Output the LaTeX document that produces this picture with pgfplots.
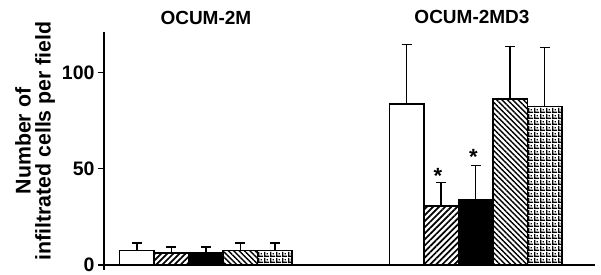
\documentclass[border=0pt]{standalone}
\usepackage{fontspec}
\setmainfont{Liberation Sans}
\setsansfont{Liberation Sans}
\usepackage{pgfplots}
\pgfplotsset{compat=1.18}
\usetikzlibrary{patterns.meta}

\pgfdeclarepatternformonly{griddot}{\pgfqpoint{0pt}{0pt}}{\pgfqpoint{6pt}{6pt}}{\pgfqpoint{6pt}{6pt}}{%
  \pgfsetlinewidth{1.7pt}%
  \pgfpathmoveto{\pgfqpoint{0.85pt}{0pt}}\pgfpathlineto{\pgfqpoint{0.85pt}{6pt}}%
  \pgfpathmoveto{\pgfqpoint{0pt}{0.85pt}}\pgfpathlineto{\pgfqpoint{6pt}{0.85pt}}%
  \pgfusepath{stroke}%
  \pgfpathrectangle{\pgfqpoint{3.05pt}{3.05pt}}{\pgfqpoint{1.5pt}{1.5pt}}%
  \pgfusepath{fill}%
}

\pgfplotstableread{
x y ey
136.9 7.4 3.9
406.5 83.7 30.9
}\sone
\pgfplotstableread{
x y ey
171.4 6.1 3.1
441.0 30.7 12.0
}\stwo
\pgfplotstableread{
x y ey
205.9 6.1 3.1
475.5 33.9 17.8
}\sthree
\pgfplotstableread{
x y ey
240.4 7.4 3.9
510.0 86.3 27.1
}\sfour
\pgfplotstableread{
x y ey
274.9 7.4 3.9
544.5 82.4 30.5
}\sfive

\begin{document}
\begin{tikzpicture}
\begin{axis}[
  scale only axis, width=491pt, height=238pt,
  xmin=104, xmax=595, ymin=-2.6, ymax=121,
  axis x line=middle, axis y line=left,
  axis line style={-, line width=1.2pt},
  xtick=\empty, ytick={0,50,100},
  tick align=outside, major tick length=6pt,
  tick style={line width=1.2pt, black},
  hide obscured y ticks=false,
  /pgf/number format/assume math mode=true,
  y tick label style={font=\fontsize{19.5}{19.5}\selectfont\bfseries},
  ylabel={Number of\\infiltrated cells per field},
  ylabel style={align=center, font=\fontsize{21.3}{20}\selectfont\bfseries, xshift=10pt},
  clip=false,
  ybar, bar shift=0pt, bar width=34.5,
  every axis plot/.append style={line width=1.5pt, draw=black},
  error bars/y dir=plus, error bars/y explicit,
  error bars/error mark options={rotate=90, mark size=5pt, line width=1.5pt, black},
  error bars/error bar style={line width=1.5pt, black},
]
\addplot[fill=white] table[x=x, y=y, y error=ey] {\sone};
\addplot[pattern={Lines[angle=45, distance=4.3pt, line width=1.7pt]}] table[x=x, y=y, y error=ey] {\stwo};
\addplot[fill=black] table[x=x, y=y, y error=ey] {\sthree};
\addplot[pattern={Lines[angle=-45, distance=3.8pt, line width=1.4pt]}] table[x=x, y=y, y error=ey] {\sfour};
\addplot[pattern=griddot] table[x=x, y=y, y error=ey] {\sfive};
\node[font=\fontsize{19}{19}\selectfont\bfseries] at (axis cs:205.9,128.5) {OCUM-2M};
\node[font=\fontsize{19}{19}\selectfont\bfseries] at (axis cs:472,129) {OCUM-2MD3};
\node[font=\fontsize{22}{22}\selectfont\bfseries] at (axis cs:438,46) {*};
\node[font=\fontsize{22}{22}\selectfont\bfseries] at (axis cs:473.5,56) {*};
\coordinate (bl) at (axis cs:0,-5.2);
\coordinate (tr) at (axis cs:601,137.6);
\end{axis}
\pgfresetboundingbox
\path[use as bounding box] (bl) rectangle (tr);
\end{tikzpicture}
\end{document}
